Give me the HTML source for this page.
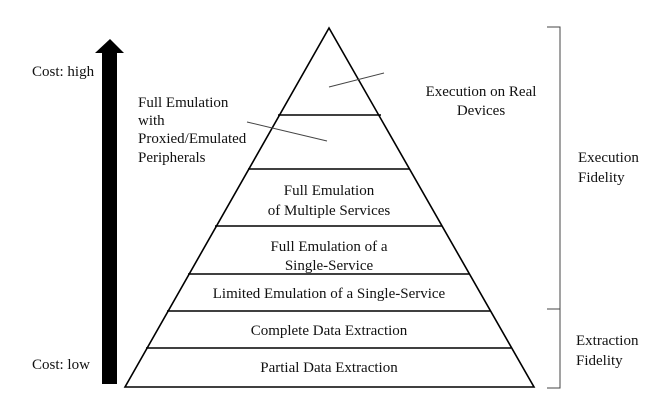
<!DOCTYPE html>
<html><head><meta charset="utf-8"><style>
html,body{margin:0;padding:0;background:#fff;}
svg text{font-family:"Liberation Serif",serif;font-size:15px;fill:#111;}
</style></head><body>
<svg width="663" height="411" viewBox="0 0 663 411" xmlns="http://www.w3.org/2000/svg">
<rect x="102" y="52" width="15" height="332" fill="#000"/>
<polygon points="95,53 124,53 110,39" fill="#000"/>
<g stroke="#000" stroke-width="1.6" fill="none">
<polygon points="329,28 125,387 534,387"/>
<line x1="278" y1="115" x2="381" y2="115"/>
<line x1="248" y1="169" x2="410" y2="169"/>
<line x1="215" y1="226" x2="442" y2="226"/>
<line x1="188" y1="274" x2="469" y2="274"/>
<line x1="167" y1="311" x2="490" y2="311"/>
<line x1="146" y1="348" x2="511" y2="348"/>
</g>
<g stroke="#444" stroke-width="1" fill="none">
<line x1="329" y1="87" x2="384" y2="73"/>
<line x1="247" y1="122" x2="327" y2="141"/>
<polyline points="547,27 560,27 560,388 547,388"/>
<line x1="547" y1="309" x2="560" y2="309"/>
</g>
<text x="32" y="76">Cost: high</text>
<text x="32" y="369">Cost: low</text>
<text x="138" y="107">Full Emulation</text>
<text x="138" y="125">with</text>
<text x="138" y="143">Proxied/Emulated</text>
<text x="138" y="162">Peripherals</text>
<text x="481" y="96" text-anchor="middle">Execution on Real</text>
<text x="481" y="115" text-anchor="middle">Devices</text>
<g text-anchor="middle">
<text x="329" y="195">Full Emulation</text>
<text x="329" y="215">of Multiple Services</text>
<text x="329" y="251">Full Emulation of a</text>
<text x="329" y="270">Single-Service</text>
<text x="329" y="298">Limited Emulation of a Single-Service</text>
<text x="329" y="335">Complete Data Extraction</text>
<text x="329" y="372">Partial Data Extraction</text>
</g>
<text x="578" y="162">Execution</text>
<text x="578" y="182">Fidelity</text>
<text x="576" y="345">Extraction</text>
<text x="576" y="365">Fidelity</text>
</svg>
</body></html>
